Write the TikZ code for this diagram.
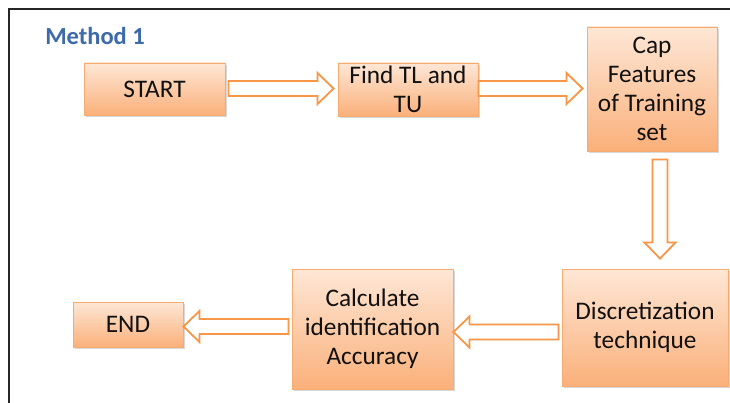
\documentclass[tikz,border=0pt]{standalone}
\usepackage{fontspec}
\setmainfont{Carlito}
\usetikzlibrary{calc,shadows}
\definecolor{boxtop}{HTML}{FEE7D6}
\definecolor{boxbot}{HTML}{FAB07A}
\definecolor{boxline}{HTML}{F6AB70}
\definecolor{arrline}{HTML}{F79646}
\definecolor{titleblue}{HTML}{3D6AAB}
\definecolor{txt}{HTML}{111111}
\newcommand{\blockarrow}[2]{%
  \coordinate (tmpB) at ($(#2)!16pt!(#1)$);
  \draw[barrow] ($(#1)!7.5pt!90:(#2)$) -- ($(tmpB)!7.5pt!-90:(#1)$) -- ($(tmpB)!15.5pt!-90:(#1)$) -- (#2)
    -- ($(tmpB)!15.5pt!90:(#1)$) -- ($(tmpB)!7.5pt!90:(#1)$) -- ($(#1)!7.5pt!-90:(#2)$) -- cycle;
}
\begin{document}
\begin{tikzpicture}[x=1pt,y=-1pt,
  flowbox/.style={draw=boxline, line width=0.9pt, top color=boxtop, bottom color=boxbot,
    inner sep=0pt, align=center, text=txt, font=\fontsize{25.3}{29}\selectfont,
    drop shadow={shadow xshift=1.5pt, shadow yshift=-2pt, opacity=0.25, fill=black!60}},
  barrow/.style={draw=arrline, line width=1.8pt, fill=white, line join=miter},
  titlestyle/.style={text=titleblue, font=\fontsize{24.5}{29}\selectfont\bfseries}]
\useasboundingbox (0,0) rectangle (730,403);
\fill[white] (0,0) rectangle (730,403);
\draw[line width=1.6pt, black!85] (9,403) -- (9,9) -- (730,9);
\node[titlestyle] (title) at (95,36) {Method 1};
\node[flowbox, minimum width=141pt, minimum height=52pt] (start) at (154.5,89) {START};
\node[flowbox, minimum width=140pt, minimum height=53pt] (find) at (408,89.5) {Find TL and\\TU};
\node[flowbox, minimum width=130pt, minimum height=124pt] (cap) at (652,89) {Cap\\Features\\of Training\\set};
\node[flowbox, minimum width=166pt, minimum height=117pt] (disc) at (645,327.5) {Discretization\\technique};
\node[flowbox, minimum width=161pt, minimum height=120pt] (calc) at (372.5,329) {Calculate\\identification\\Accuracy};
\node[flowbox, minimum width=110pt, minimum height=45pt] (end) at (128,324.5) {END};
\coordinate (a1s) at ($(start.east)+(3,-0.5)$);
\coordinate (a1t) at ($(a1s -| find.west)+(-4,0)$);
\blockarrow{a1s}{a1t}
\coordinate (a2s) at ($(find.east)+(0,-1)$);
\coordinate (a2t) at ($(a2s -| cap.west)+(-4,0)$);
\blockarrow{a2s}{a2t}
\coordinate (a3s) at ($(cap.south)+(8,8)$);
\coordinate (a3t) at ($(a3s |- disc.north)+(0,-10)$);
\blockarrow{a3s}{a3t}
\coordinate (a4s) at ($(disc.west)+(-3,4.5)$);
\coordinate (a4t) at (a4s -| calc.east);
\blockarrow{a4s}{a4t}
\coordinate (a5s) at ($(calc.west)+(-3,-2.5)$);
\coordinate (a5t) at (a5s -| end.east);
\blockarrow{a5s}{a5t}
\end{tikzpicture}
\end{document}
